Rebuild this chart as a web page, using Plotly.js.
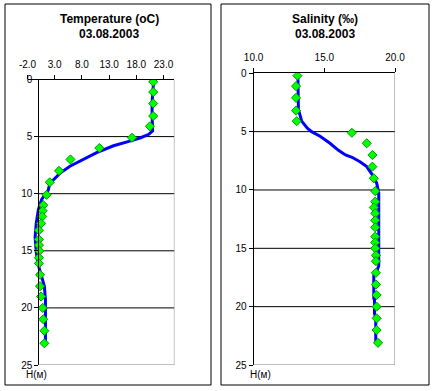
<!DOCTYPE html>
<html><head><meta charset="utf-8">
<script src="https://cdn.plot.ly/plotly-3.0.1.min.js"></script>
<style>html,body{margin:0;padding:0;background:#fff}#c{width:439px;height:391px}</style>
</head><body><div id="c"></div>
<script>
// Observation depths (m)
const pointDepth = [0.2,1.1,2.1,3.2,4.1,5.1,6.0,7.0,8.0,9.0,10.1,11.0,11.5,12.0,12.6,13.2,14.0,14.5,15.0,15.6,16.1,17.1,18.1,19.0,20.0,21.0,22.0,23.1];
// Observed temperature (oC)
const tempObs = [21.1,21.1,21.1,21.1,20.5,17.2,11.2,5.9,3.8,2.1,1.5,0.9,0.8,0.7,0.5,0.1,0.1,0.1,0.2,0.1,0.1,0.3,0.3,0.5,0.8,0.9,1.1,1.1];
// Observed salinity (‰)
const salObs = [13.1,13.0,13.0,13.0,13.05,16.95,18.0,18.4,18.4,18.5,18.6,18.6,18.5,18.6,18.6,18.6,18.6,18.6,18.6,18.65,18.65,18.65,18.65,18.7,18.7,18.7,18.7,18.8];
// Modelled temperature profile
const tempLineDepth = [0,1,2,3,4,4.5,4.8,5.1,5.4,5.8,6.4,7.0,7.6,8.2,9.1,9.7,10.3,10.5,11.4,12.6,13.8,15.1,16.1,17.3,18.1,19.3,21.0,23.1];
const tempLineVal = [21.2,21.0,20.9,20.9,21.0,21.0,20.3,18.8,16.8,13.8,10.7,8.3,5.8,4.0,2.1,1.8,0.9,0.6,0.0,-0.4,-0.6,-0.4,-0.1,0.6,1.1,1.3,1.3,1.3];
// Modelled salinity profile
const salLineDepth = [0,3.1,4.1,4.7,5.0,5.4,6.0,6.6,7.0,7.2,7.6,8.0,8.7,9.4,10.2,16.5,17.0,17.3,19.3,19.4,20.6,21.0,23.2];
const salLineVal = [13.13,13.17,13.4,13.8,14.1,14.7,15.4,16.0,16.5,16.96,17.55,18.0,18.4,18.7,18.85,18.85,18.7,18.5,18.5,18.55,18.55,18.64,18.64];
// Axis ticks
const depthTicks = [0,5,10,15,20,25];
const gridDepths = [5,10,15,20];
const tempTicks = [-2,3,8,13,18,23];
const tempTickText = ["-2.0","3.0","8.0","13.0","18.0","23.0"];
const salTicks = [10,15,20];
const salTickText = ["10.0","15.0","20.0"];
const titles = ["Temperature (oC)","Salinity (‰)"];
const dateLabel = "03.08.2003";
const depthLabel = "H(м)";

const W = 439, H = 391;
const fx = p => p / W, fy = p => 1 - p / H;
const font = {family: "Arial, Liberation Sans, sans-serif", size: 10, color: "#000"};

const traces = [
  {x: tempLineVal, y: tempLineDepth, xaxis: "x", yaxis: "y", mode: "lines", line: {color: "#0000ff", width: 3}, hoverinfo: "skip"},
  {x: tempObs, y: pointDepth, xaxis: "x", yaxis: "y", mode: "markers", marker: {symbol: "diamond", size: 7, color: "#00ff00", line: {color: "#009900", width: 1}}},
  {x: salLineVal, y: salLineDepth, xaxis: "x2", yaxis: "y2", mode: "lines", line: {color: "#0000ff", width: 3}, hoverinfo: "skip"},
  {x: salObs, y: pointDepth, xaxis: "x2", yaxis: "y2", mode: "markers", marker: {symbol: "diamond", size: 7, color: "#00ff00", line: {color: "#009900", width: 1}}}
];

const xd1 = [fx(27.5), fx(174.4)], yd1 = [fy(365), fy(79.5)];
const xd2 = [fx(253.6), fx(395)], yd2 = [fy(365), fy(73.3)];
const y1pos = xd1[0] + (0 - (-2)) / 27 * (xd1[1] - xd1[0]);

const xCommon = {side: "top", showgrid: false, zeroline: false, showline: true, linecolor: "#000", linewidth: 1,
  ticks: "outside", ticklen: 4, tickcolor: "#000", tickfont: font, ticklabelstandoff: 3, fixedrange: true};
const yCommon = {autorange: false, showgrid: false, zeroline: false, showline: true, linecolor: "#000", linewidth: 1,
  ticks: "outside", ticklen: 4, tickcolor: "#000", tickvals: depthTicks, ticktext: depthTicks.map(String), tickfont: font, fixedrange: true};

const shapes = [];
// panel frames
shapes.push({type: "rect", xref: "paper", yref: "paper", x0: fx(5), x1: fx(211), y0: fy(385), y1: fy(4), line: {color: "#000", width: 1}});
shapes.push({type: "rect", xref: "paper", yref: "paper", x0: fx(221), x1: fx(429), y0: fy(385), y1: fy(4), line: {color: "#000", width: 1}});
// plot area gray borders (right & bottom) and horizontal gridlines
[["x","y",0,25],["x2","y2",10,20]].forEach(([xr,yr,a,b]) => {
  shapes.push({type: "line", xref: xr, yref: yr, x0: b, x1: b, y0: 0, y1: 25, line: {color: "#808080", width: 1}});
  shapes.push({type: "line", xref: xr, yref: yr, x0: a, x1: b, y0: 25, y1: 25, line: {color: "#808080", width: 1}});
  gridDepths.forEach(d => shapes.push({type: "line", xref: xr, yref: yr, x0: a, x1: b, y0: d, y1: d, line: {color: "#000", width: 1}, layer: "below"}));
});

const tfont = {family: "Arial, Liberation Sans, sans-serif", size: 12, color: "#000"};
const annotations = [
  {xref: "paper", yref: "paper", x: fx(109), y: fy(19), text: "<b>" + titles[0] + "</b>", showarrow: false, font: tfont, xanchor: "center", yanchor: "middle"},
  {xref: "paper", yref: "paper", x: fx(109), y: fy(34), text: "<b>" + dateLabel + "</b>", showarrow: false, font: tfont, xanchor: "center", yanchor: "middle"},
  {xref: "paper", yref: "paper", x: fx(325), y: fy(19), text: "<b>" + titles[1] + "</b>", showarrow: false, font: tfont, xanchor: "center", yanchor: "middle"},
  {xref: "paper", yref: "paper", x: fx(325), y: fy(34), text: "<b>" + dateLabel + "</b>", showarrow: false, font: tfont, xanchor: "center", yanchor: "middle"},
  {xref: "paper", yref: "paper", x: fx(24), y: fy(374), text: depthLabel, showarrow: false, font: font, xanchor: "left", yanchor: "middle"},
  {xref: "paper", yref: "paper", x: fx(248), y: fy(374), text: depthLabel, showarrow: false, font: font, xanchor: "left", yanchor: "middle"}
];

const layout = {
  width: W, height: H, margin: {l: 0, r: 0, t: 0, b: 0}, showlegend: false,
  paper_bgcolor: "#fff", plot_bgcolor: "rgba(0,0,0,0)",
  xaxis: Object.assign({}, xCommon, {domain: xd1, range: [-2, 25], tickvals: tempTicks, ticktext: tempTickText, anchor: "y"}),
  yaxis: Object.assign({}, yCommon, {domain: yd1, range: [25, 0], anchor: "free", position: y1pos}),
  xaxis2: Object.assign({}, xCommon, {domain: xd2, range: [10, 20], tickvals: salTicks, ticktext: salTickText, anchor: "y2"}),
  yaxis2: Object.assign({}, yCommon, {domain: yd2, range: [25, 0], anchor: "x2"}),
  shapes: shapes, annotations: annotations
};
Plotly.newPlot("c", traces, layout, {staticPlot: true, displayModeBar: false});
</script></body></html>
